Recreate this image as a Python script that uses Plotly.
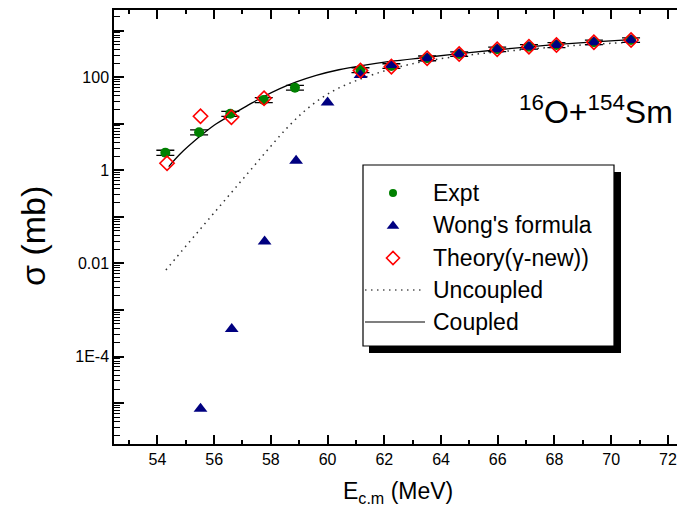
import plotly.graph_objects as go

# ---- data: fusion cross sections for 16O + 154Sm ----
e_expt = [54.28, 55.47, 56.57, 57.75, 58.85, 61.16, 62.25, 63.51, 64.64, 65.98, 67.10, 68.07, 69.39, 70.70]
sig_expt = [2.4, 6.6, 16.5, 32.6, 59.8, 143, 175, 256, 316, 399, 454, 494, 565, 631]
err_expt = [0.3, 0.8, 2.0, 4.0, 7.0, 17, 20, 30, 35, 45, 50, 60, 65, 70]

e_wong = [55.52, 56.62, 57.78, 58.89, 60.00, 61.16, 62.25, 63.51, 64.64, 65.98, 67.10, 68.07, 69.39, 70.70]
sig_wong = [7.5e-6, 3.9e-4, 0.0295, 1.6, 28.5, 112, 184, 256, 316, 399, 454, 494, 565, 631]

e_theory = [54.34, 55.52, 56.61, 57.76, 61.16, 62.25, 63.51, 64.64, 65.98, 67.10, 68.07, 69.39, 70.70]
sig_theory = [1.42, 14.5, 13.8, 35.4, 139, 169, 256, 316, 399, 454, 494, 565, 631]

e_uncoupled = [54.3, 55.0, 55.6, 56.2, 56.8, 57.4, 58.0, 58.6, 59.2, 59.8, 60.4, 61.2, 62.2, 63.5, 65.0, 66.5, 68.0, 69.4, 70.7]
sig_uncoupled = [0.0072, 0.0234, 0.0631, 0.170, 0.457, 1.23, 3.31, 8.51, 19.1, 36.3, 58.9, 93.3, 148, 224, 302, 372, 447, 513, 562]

e_coupled = [54.4, 54.8, 55.5, 56.0, 56.6, 57.2, 57.7, 58.3, 58.9, 59.6, 60.4, 61.2, 62.2, 63.5, 65.0, 66.5, 68.0, 69.4, 70.7]
sig_coupled = [1.20, 2.24, 5.37, 9.33, 15.5, 25.1, 37.2, 56.2, 79.4, 110, 145, 178, 219, 269, 339, 417, 501, 575, 646]

x_ticks = [54, 56, 58, 60, 62, 64, 66, 68, 70, 72]
y_ticks = [1e-5, 1e-4, 1e-3, 1e-2, 1e-1, 1, 10, 100, 1000]
y_ticktext = ["", "1E-4", "", "0.01", "", "1", "", "100", ""]
y_minor = [k * 10.0 ** d for d in range(-6, 4) for k in range(2, 10)]

legend_names = ["Expt", "Wong's formula", "Theory(\u03b3-new))", "Uncoupled", "Coupled"]

FONT = "Liberation Sans, Arial, sans-serif"
GREEN = "#008000"
NAVY = "#000080"
RED = "#ff0000"

# plot-area edges in figure pixels
X0, X1, Y0, Y1 = 114, 677, 10, 444


def px_to_paper(px, py):
    return (px - X0) / (X1 - X0), (Y1 - py) / (Y1 - Y0)


fig = go.Figure()

fig.add_trace(go.Scatter(
    x=e_uncoupled, y=sig_uncoupled, mode="lines", line_shape="spline",
    line=dict(color="#333333", width=1.5, dash="1.5px,4.5px"), showlegend=False))
fig.add_trace(go.Scatter(
    x=e_coupled, y=sig_coupled, mode="lines", line_shape="spline",
    line=dict(color="black", width=1.3), showlegend=False))
fig.add_trace(go.Scatter(
    x=e_expt, y=sig_expt, mode="markers",
    marker=dict(symbol="circle", size=10, color=GREEN),
    error_y=dict(type="data", array=err_expt, color="black", thickness=1.3, width=9),
    showlegend=False))
fig.add_trace(go.Scatter(
    x=e_wong, y=sig_wong, mode="markers",
    marker=dict(symbol="triangle-up", size=12, color=NAVY),
    showlegend=False))
fig.add_trace(go.Scatter(
    x=e_theory, y=sig_theory, mode="markers",
    marker=dict(symbol="diamond-open", size=11, color=RED, line=dict(width=1.6, color=RED)),
    showlegend=False))

# ---- hand-built legend on an overlay axis measured in figure pixels ----
row_y = [193, 225, 258, 290, 322]
mark_x = 393
text_x = 431

fig.add_trace(go.Scatter(x=[mark_x], y=[row_y[0]], xaxis="x2", yaxis="y2", mode="markers",
                         marker=dict(symbol="circle", size=8, color=GREEN), showlegend=False))
fig.add_trace(go.Scatter(x=[mark_x], y=[row_y[1] + 1], xaxis="x2", yaxis="y2", mode="markers",
                         marker=dict(symbol="triangle-up", size=11, color=NAVY), showlegend=False))
fig.add_trace(go.Scatter(x=[mark_x], y=[row_y[2]], xaxis="x2", yaxis="y2", mode="markers",
                         marker=dict(symbol="diamond-open", size=10, color=RED,
                                     line=dict(width=1.6, color=RED)), showlegend=False))
fig.add_trace(go.Scatter(x=[365, 425], y=[row_y[3], row_y[3]], xaxis="x2", yaxis="y2", mode="lines",
                         line=dict(color="#555555", width=1.3, dash="1.5px,4.5px"), showlegend=False))
fig.add_trace(go.Scatter(x=[365, 425], y=[row_y[4], row_y[4]], xaxis="x2", yaxis="y2", mode="lines",
                         line=dict(color="black", width=1.2), showlegend=False))

shapes = [
    # drop shadow
    dict(type="rect", xref="x2", yref="y2", x0=369, x1=621, y0=172, y1=353,
         fillcolor="black", line=dict(width=0), layer="below"),
    # legend box
    dict(type="rect", xref="x2", yref="y2", x0=363, x1=614, y0=165, y1=346,
         fillcolor="white", line=dict(color="black", width=1.2), layer="below"),
]

annotations = []
for name, yy in zip(legend_names, row_y):
    annotations.append(dict(x=text_x, y=yy, xref="x2", yref="y2", text=name, showarrow=False,
                            xanchor="left", yanchor="middle",
                            font=dict(family=FONT, size=23, color="black")))

annotations.append(dict(x=675, y=110, xref="x2", yref="y2",
                        text="<sup>16</sup>O+<sup>154</sup>Sm", showarrow=False,
                        xanchor="right", yanchor="middle",
                        font=dict(family=FONT, size=32, color="black")))

# axis titles placed in paper coordinates (outside the plotting area)
ytx, yty = px_to_paper(33, 236)
annotations.append(dict(x=ytx, y=yty, xref="paper", yref="paper", text="\u03c3 (mb)",
                        showarrow=False, textangle=-90, xanchor="center", yanchor="middle",
                        font=dict(family=FONT, size=34, color="black")))
xtx, xty = px_to_paper(398, 492)
annotations.append(dict(x=xtx, y=xty, xref="paper", yref="paper", text="E<sub>c.m</sub> (MeV)",
                        showarrow=False, xanchor="center", yanchor="middle",
                        font=dict(family=FONT, size=23, color="black")))

fig.update_layout(
    width=677, height=513,
    margin=dict(l=X0, r=0, t=Y0, b=513 - Y1, pad=0),
    paper_bgcolor="white", plot_bgcolor="white",
    showlegend=False,
    font=dict(family=FONT, size=16, color="black"),
    xaxis=dict(range=[52.47, 72.32], tickvals=x_ticks, ticks="inside", ticklen=9, tickwidth=1.5,
               tickcolor="black", showline=True, linecolor="black", linewidth=1.5, mirror="ticks",
               showgrid=False, zeroline=False,
               minor=dict(tickvals=[53, 55, 57, 59, 61, 63, 65, 67, 69, 71], ticks="inside",
                          ticklen=4, tickwidth=1.5, tickcolor="black", showgrid=False),
               tickfont=dict(family=FONT, size=16)),
    yaxis=dict(type="log", range=[-5.88, 3.445], tickvals=y_ticks, ticktext=y_ticktext,
               ticks="inside", ticklen=10, tickwidth=1.5, tickcolor="black",
               showline=True, linecolor="black", linewidth=1.5, mirror=False,
               showgrid=False, zeroline=False,
               minor=dict(tickvals=y_minor, ticks="inside", ticklen=6, tickwidth=1.3,
                          tickcolor="black", showgrid=False),
               tickfont=dict(family=FONT, size=16)),
    xaxis2=dict(range=[X0, X1], overlaying="x", anchor="y2", visible=False, fixedrange=True),
    yaxis2=dict(range=[Y1, Y0], overlaying="y", anchor="x2", visible=False, fixedrange=True),
    shapes=shapes,
    annotations=annotations,
)

fig.write_html("out.html")
